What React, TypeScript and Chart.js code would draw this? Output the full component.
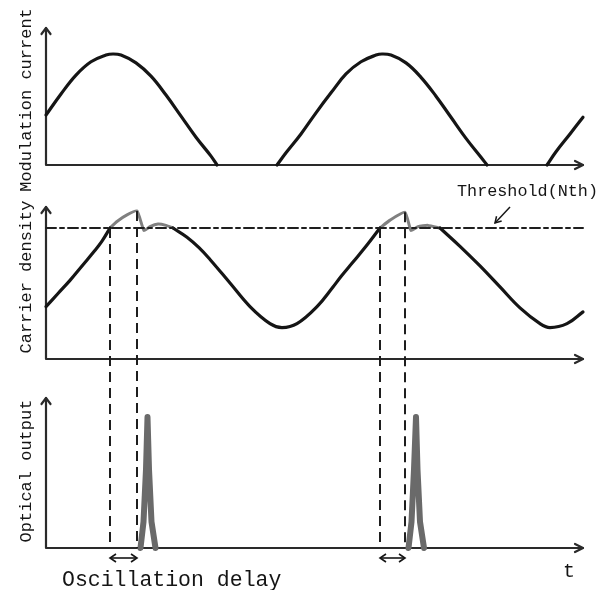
import React, { useEffect, useRef } from "react";
import { Chart, registerables } from "chart.js";

Chart.register(...registerables);

// ---------- data (time axis in arbitrary units, 0 .. 537) ----------
const T_MAX = 537;

// Modulation current (peak = 1), null = curve absent (below zero)
const modT = [0, 15, 30, 45, 60, 67, 75, 90, 105, 120, 135, 150, 165, 171, 201, 231, 240, 255, 270, 285, 300, 315, 330, 336, 345, 360, 375, 390, 405, 420, 435, 441, 471, 501, 510, 524, 537];
const modI = [0.45, 0.64, 0.81, 0.93, 0.99, 1.0, 0.99, 0.92, 0.8, 0.63, 0.44, 0.25, 0.08, 0.0, null, 0.0, 0.11, 0.28, 0.47, 0.65, 0.82, 0.93, 0.99, 1.0, 0.99, 0.92, 0.79, 0.62, 0.43, 0.24, 0.07, 0.0, null, 0.0, 0.12, 0.28, 0.43];

// Carrier density (threshold = 1)
const carT = [0, 12, 24, 36, 48, 56, 64, 71, 81, 91, 98, 104, 112, 120, 127, 141, 153, 164, 184, 204, 224, 236, 251, 271, 287, 295, 307, 321, 334, 344, 359, 365, 372, 382, 394, 414, 434, 454, 474, 494, 504, 521, 537];
const carN = [0.4, 0.5, 0.6, 0.71, 0.82, 0.9, 1.0, 1.05, 1.1, 1.13, 0.98, 1.01, 1.03, 1.02, 1.0, 0.93, 0.85, 0.76, 0.58, 0.4, 0.27, 0.24, 0.27, 0.4, 0.55, 0.63, 0.74, 0.87, 1.0, 1.06, 1.12, 0.98, 1.01, 1.02, 1.0, 0.86, 0.71, 0.55, 0.39, 0.27, 0.24, 0.27, 0.36];
const carLasing = [0, 0, 0, 0, 0, 0, 1, 1, 1, 1, 1, 1, 1, 1, 1, 0, 0, 0, 0, 0, 0, 0, 0, 0, 0, 0, 0, 0, 1, 1, 1, 1, 1, 1, 1, 0, 0, 0, 0, 0, 0, 0, 0];
const thresholdN = 1.0;

// Optical output pulses (peak = 1)
const optT = [94.5, 97.5, 100, 101.5, 103, 105.5, 109.5, 240, 362.5, 365.5, 368, 370, 371.5, 374, 378];
const optP = [0, 0.2, 0.6, 1.0, 0.6, 0.2, 0, null, 0, 0.2, 0.6, 1.0, 0.6, 0.2, 0];

// Oscillation-delay markers
const onsetT = [64, 334];
const peakT = [91, 359];
const peakN = [1.13, 1.12];

// Text
const axisTitles = ["Modulation current", "Carrier density", "Optical output"];
const thresholdLabel = "Threshold(Nth)";
const delayLabel = "Oscillation delay";
const timeLabel = "t";

// ---------- layout ----------
const W = 605;
const H = 590;
const PAD_LEFT = 46;
const PAD_RIGHT = 22;
const PANELS = [
  { id: "yMod", base: 165, unit: 111, tip: 28, titleY: 100 },
  { id: "yCar", base: 359, unit: 131, tip: 207, titleY: 277 },
  { id: "yOpt", base: 548, unit: 131, tip: 398, titleY: 471 },
];
const FONT = '"Liberation Mono", "DejaVu Sans Mono", monospace';
const INK = "#151515";

function chevron(ctx: CanvasRenderingContext2D, x: number, y: number, dx: number, dy: number, len: number, half: number) {
  ctx.beginPath();
  ctx.moveTo(x - dx * len - dy * half, y - dy * len + dx * half);
  ctx.lineTo(x, y);
  ctx.lineTo(x - dx * len + dy * half, y - dy * len - dx * half);
  ctx.stroke();
}

const decor = {
  id: "decor",
  beforeDatasetsDraw(chart: any) {
    const ctx: CanvasRenderingContext2D = chart.ctx;
    const xs = chart.scales.x;
    const x0 = xs.getPixelForValue(0);
    const x1 = xs.getPixelForValue(T_MAX);
    ctx.save();
    ctx.strokeStyle = "#2a2a2a";
    ctx.lineWidth = 2.2;
    ctx.lineCap = "round";
    ctx.lineJoin = "round";
    for (const p of PANELS) {
      const ys = chart.scales[p.id];
      const yb = ys.getPixelForValue(0);
      ctx.beginPath();
      ctx.moveTo(x0, yb);
      ctx.lineTo(x0, p.tip);
      ctx.moveTo(x0, yb);
      ctx.lineTo(x1, yb);
      ctx.stroke();
      chevron(ctx, x0, p.tip, 0, -1, 6, 4.5);
      chevron(ctx, x1, yb, 1, 0, 8, 4);
    }
    ctx.restore();
  },
  afterDatasetsDraw(chart: any) {
    const ctx: CanvasRenderingContext2D = chart.ctx;
    const xs = chart.scales.x;
    const yCar = chart.scales.yCar;
    const yOpt = chart.scales.yOpt;
    ctx.save();
    // vertical dashed lines
    ctx.strokeStyle = "#1e1e1e";
    ctx.lineWidth = 2;
    ctx.setLineDash([10, 6]);
    const yBottom = yOpt.getPixelForValue(0);
    onsetT.forEach((t) => {
      const x = xs.getPixelForValue(t);
      ctx.beginPath();
      ctx.moveTo(x, yCar.getPixelForValue(thresholdN));
      ctx.lineTo(x, yBottom);
      ctx.stroke();
    });
    peakT.forEach((t, i) => {
      const x = xs.getPixelForValue(t);
      ctx.beginPath();
      ctx.moveTo(x, yCar.getPixelForValue(peakN[i]));
      ctx.lineTo(x, yBottom);
      ctx.stroke();
    });
    ctx.setLineDash([]);

    // double arrows for the delay
    ctx.lineWidth = 1.6;
    ctx.strokeStyle = INK;
    const ya = yBottom + 10;
    onsetT.forEach((t, i) => {
      const a = xs.getPixelForValue(t);
      const b = xs.getPixelForValue(peakT[i]);
      ctx.beginPath();
      ctx.moveTo(a, ya);
      ctx.lineTo(b, ya);
      ctx.stroke();
      chevron(ctx, a, ya, -1, 0, 6, 4);
      chevron(ctx, b, ya, 1, 0, 6, 4);
    });

    // threshold pointer arrow
    ctx.lineWidth = 1.5;
    ctx.beginPath();
    ctx.moveTo(510, 207);
    ctx.lineTo(495, 223);
    ctx.stroke();
    const ang = Math.atan2(223 - 207, 495 - 510);
    chevron(ctx, 495, 223, Math.cos(ang), Math.sin(ang), 6, 3.5);

    // texts
    ctx.fillStyle = INK;
    ctx.textAlign = "center";
    ctx.textBaseline = "middle";
    ctx.font = `17px ${FONT}`;
    PANELS.forEach((p, i) => {
      ctx.save();
      ctx.translate(26, p.titleY);
      ctx.rotate(-Math.PI / 2);
      ctx.fillText(axisTitles[i], 0, 0);
      ctx.restore();
    });
    ctx.textAlign = "left";
    ctx.font = `16.8px ${FONT}`;
    ctx.fillText(thresholdLabel, 457, 192);
    ctx.textBaseline = "alphabetic";
    ctx.font = `21.5px ${FONT}`;
    ctx.fillText(delayLabel, 62, 586);
    ctx.font = `20px ${FONT}`;
    ctx.fillText(timeLabel, 563, 577);
    ctx.restore();
  },
};

export default function App() {
  const ref = useRef<HTMLCanvasElement>(null);
  useEffect(() => {
    const canvas = ref.current;
    if (!canvas) return;
    const pts = (ts: number[], vs: (number | null)[]) => ts.map((t, i) => ({ x: t, y: vs[i] }));
    const carBlack = carN.map((v, i) =>
      carLasing[i] && carLasing[i - 1] && carLasing[i + 1] ? null : v
    );
    const carGray = carN.map((v, i) => (carLasing[i] ? v : null));
    const scales: any = {
      x: { type: "linear", min: 0, max: T_MAX, display: false },
    };
    PANELS.forEach((p) => {
      scales[p.id] = {
        type: "linear",
        display: false,
        min: -(H - p.base) / p.unit,
        max: p.base / p.unit,
      };
    });
    const chart = new Chart(canvas, {
      type: "line",
      data: {
        datasets: [
          {
            label: "Threshold",
            data: pts([0, T_MAX], [thresholdN, thresholdN]),
            yAxisID: "yCar",
            borderColor: "#1e1e1e",
            borderWidth: 2,
            borderDash: [10, 4, 4, 4],
            pointRadius: 0,
          },
          {
            label: "Modulation current",
            data: pts(modT, modI),
            yAxisID: "yMod",
            borderColor: INK,
            borderWidth: 3.2,
            pointRadius: 0,
            tension: 0.4,
            spanGaps: false,
          },
          {
            label: "Carrier density",
            data: pts(carT, carBlack),
            yAxisID: "yCar",
            borderColor: INK,
            borderWidth: 3.2,
            pointRadius: 0,
            tension: 0.4,
            spanGaps: false,
          },
          {
            label: "Carrier density (lasing)",
            data: pts(carT, carGray),
            yAxisID: "yCar",
            borderColor: "#808080",
            borderWidth: 3,
            pointRadius: 0,
            tension: 0.15,
            spanGaps: false,
          },
          {
            label: "Optical output",
            data: pts(optT, optP),
            yAxisID: "yOpt",
            borderColor: "#6a6a6a",
            borderWidth: 6,
            pointRadius: 0,
            tension: 0,
            spanGaps: false,
            borderJoinStyle: "round",
            borderCapStyle: "round",
          },
        ],
      },
      options: {
        animation: false,
        responsive: false,
        events: [],
        layout: { padding: { left: PAD_LEFT, right: PAD_RIGHT, top: 0, bottom: 0 } },
        plugins: { legend: { display: false }, tooltip: { enabled: false } },
        scales,
        elements: { line: { borderCapStyle: "round", borderJoinStyle: "round" } },
        clip: false as any,
      },
      plugins: [decor],
    } as any);
    return () => chart.destroy();
  }, []);
  return (
    <div style={{ position: "absolute", left: 0, top: 0, width: W, height: H, background: "#fff" }}>
      <canvas ref={ref} width={W} height={H} style={{ width: W, height: H, display: "block" }} />
    </div>
  );
}
